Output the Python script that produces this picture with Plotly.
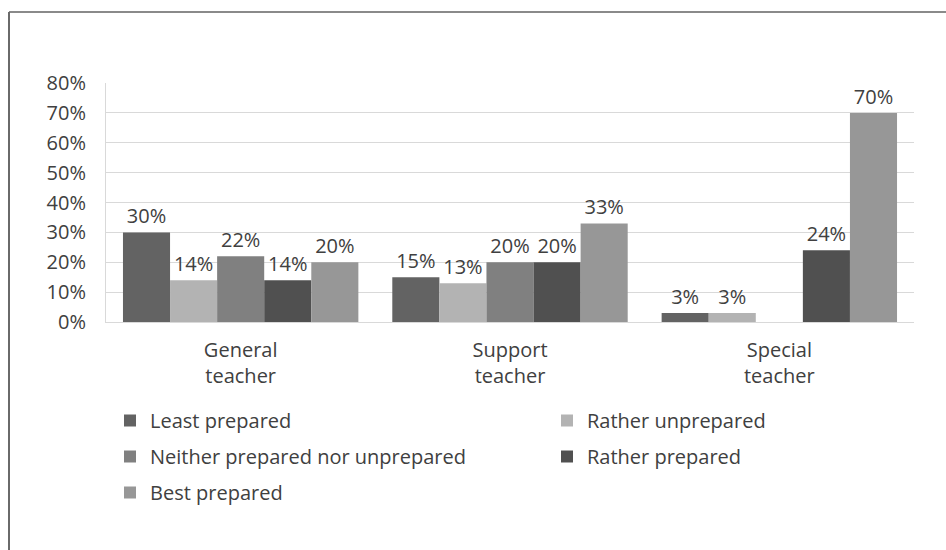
import plotly.graph_objects as go

categories = ["General<br>teacher", "Support<br>teacher", "Special<br>teacher"]
series_names = ["Least prepared", "Rather unprepared", "Neither prepared nor unprepared",
                "Rather prepared", "Best prepared"]
least_prepared = [30, 15, 3]
rather_unprepared = [14, 13, 3]
neither = [22, 20, None]
rather_prepared = [14, 20, 24]
best_prepared = [20, 33, 70]
y_ticks = [0, 10, 20, 30, 40, 50, 60, 70, 80]

values = [least_prepared, rather_unprepared, neither, rather_prepared, best_prepared]
colors = ["#636363", "#b3b3b3", "#808080", "#505050", "#979797"]
legends = ["legend", "legend2", "legend", "legend2", "legend"]

W, H = 946, 550
L, R, T, B = 106, 32, 83, 228
pw, ph = W - L - R, H - T - B

def px_x(x):
    return (x - L) / pw

def px_y(y):
    return (H - B - y) / ph

FONT = "Open Sans, Noto Sans, sans-serif"
TXT = "#404040"

fig = go.Figure()
for i, (name, vals, col, lg) in enumerate(zip(series_names, values, colors, legends)):
    fig.add_trace(go.Bar(
        name=name, x=categories, y=vals, marker=dict(color=col, line=dict(width=0)),
        text=[("%d%%" % v) if v is not None else "" for v in vals],
        textposition="outside", cliponaxis=False,
        textfont=dict(family=FONT, size=20, color=TXT),
        legend=lg, legendgroup=name, showlegend=True,
    ))

fig.update_layout(
    width=W, height=H,
    margin=dict(l=L, r=R, t=T, b=B, autoexpand=False),
    paper_bgcolor="white", plot_bgcolor="white",
    font=dict(family=FONT, size=20, color=TXT),
    barmode="group", bargap=0.126, bargroupgap=0,
    showlegend=True,
    legend=dict(x=px_x(110), y=px_y(401), xanchor="left", yanchor="top",
                orientation="v", traceorder="grouped", tracegroupgap=7,
                font=dict(family=FONT, size=20, color=TXT), bgcolor="rgba(0,0,0,0)"),
    legend2=dict(x=px_x(547), y=px_y(401), xanchor="left", yanchor="top",
                 orientation="v", traceorder="grouped", tracegroupgap=7,
                 font=dict(family=FONT, size=20, color=TXT), bgcolor="rgba(0,0,0,0)"),
    xaxis=dict(showline=True, linecolor="#d9d9d9", linewidth=1, ticks="",
               tickfont=dict(family=FONT, size=20, color=TXT), ticklabelstandoff=10),
    yaxis=dict(range=[0, 80], tickmode="array", tickvals=y_ticks,
               ticktext=["%d%%" % v for v in y_ticks], showgrid=True,
               gridcolor="#d9d9d9", gridwidth=1, zeroline=False,
               showline=True, linecolor="#d9d9d9", linewidth=1, ticks="",
               tickfont=dict(family=FONT, size=20, color=TXT), ticklabelstandoff=15),
    shapes=[
        dict(type="line", xref="paper", yref="paper", x0=px_x(9), x1=px_x(W), y0=px_y(12), y1=px_y(12),
             line=dict(color="#8a8a8a", width=2)),
        dict(type="line", xref="paper", yref="paper", x0=px_x(9), x1=px_x(9), y0=px_y(12), y1=px_y(H),
             line=dict(color="#6a6a6a", width=2)),
    ],
)

fig.write_html("out.html")
